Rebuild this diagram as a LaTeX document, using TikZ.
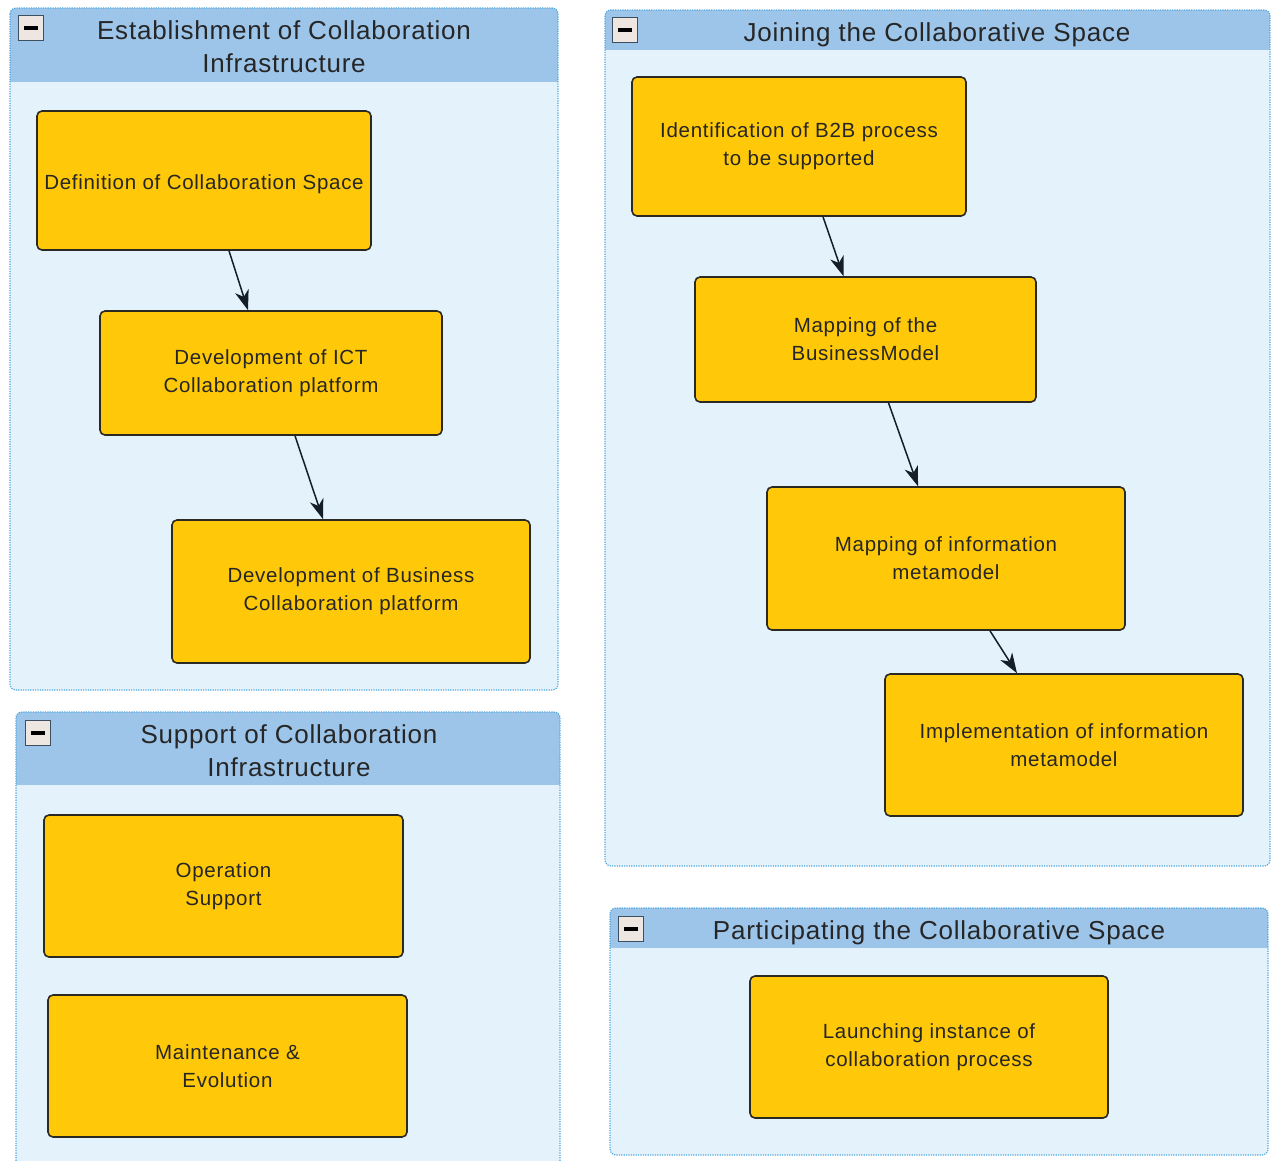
\documentclass[tikz,border=0pt]{standalone}
\usepackage{fontspec}
\setmainfont{Liberation Sans}
\newfontfamily\boxfont[LetterSpace=3.5]{Liberation Sans}
\newfontfamily\titlefont[LetterSpace=3]{Liberation Sans}
\usetikzlibrary{arrows.meta}
\definecolor{boxfill}{HTML}{FFC808}
\definecolor{boxline}{HTML}{2A2A22}
\definecolor{panelbg}{HTML}{E4F2FB}
\definecolor{headbg}{HTML}{9DC5E9}
\definecolor{panelline}{HTML}{4FA6DE}
\definecolor{arrowc}{HTML}{141E2A}
\definecolor{iconbg}{HTML}{EEE6E0}
\definecolor{iconline}{HTML}{3E5060}
\tikzset{
 box/.style={draw=boxline, line width=1.6pt, fill=boxfill, rounded corners=5pt, inner sep=0pt, align=center, execute at begin node={\rule{0pt}{22pt}}, font={\boxfont\fontsize{20.5}{28}\selectfont}, text=black!85},
 flow/.style={-{Stealth[length=20pt,width=14pt,inset=6pt]}, line width=1.5pt, draw=arrowc},
 title/.style={align=center, font={\titlefont\fontsize{26}{33}\selectfont}, text=black!85, inner sep=0pt},
 iconbox/.style={draw=iconline, line width=1.3pt, fill=iconbg, minimum size=25pt, inner sep=0pt},
 panelborder/.style={draw=panelline, line width=1.2pt, dash pattern=on 1.2pt off 1.2pt},
}
\newcommand{\mypanel}[5]{%
 \fill[panelbg, rounded corners=6pt] (#1,#2) rectangle (#3,#4);
 \begin{scope}
 \clip[rounded corners=6pt] (#1,#2) rectangle (#3,#4);
 \fill[headbg] (#1,#2) rectangle (#3,#5);
 \end{scope}
 \draw[panelborder, rounded corners=6pt] (#1,#2) rectangle (#3,#4);
}
\newcommand{\myicon}[3]{%
 \node[iconbox] (#1) at (#2,#3) {};
 \fill[black] (#1.center) ++(-7,-2) rectangle ++(14,4);
}
\begin{document}
\begin{tikzpicture}[x=1pt,y=-1pt]
\useasboundingbox (0,0) rectangle (1274,1160);
\fill[white] (0,0) rectangle (1274,1160);

% panels
\mypanel{10}{8}{558}{690}{82}
\mypanel{605}{10}{1270}{866}{50}
\mypanel{16}{712}{560}{1180}{785}
\mypanel{610}{908}{1268}{1155}{948}

% icons
\myicon{i1}{31}{28}
\myicon{i2}{625}{30}
\myicon{i3}{38}{733}
\myicon{i4}{631}{929}

% titles
\node[title] (t1) at (284,47) {Establishment of Collaboration\\Infrastructure};
\node[title] (t2) at (937,35) {Joining the Collaborative Space};
\node[title] (t3) at (289,751) {Support of Collaboration\\Infrastructure};
\node[title] (t4) at (939,933) {Participating the Collaborative Space};

% boxes
\node[box, minimum width=334pt, minimum height=139pt] (b1) at (204,180.5) {Definition of Collaboration Space};
\node[box, minimum width=342pt, minimum height=124pt] (b2) at (271,373) {Development of ICT\\Collaboration platform};
\node[box, minimum width=358pt, minimum height=143pt] (b3) at (351,591.5) {Development of Business\\Collaboration platform};

\node[box, minimum width=334pt, minimum height=139pt] (c1) at (799,146.5) {Identification of B2B process\\to be supported};
\node[box, minimum width=341pt, minimum height=125pt] (c2) at (865.5,339.5) {Mapping of the\\BusinessModel};
\node[box, minimum width=358pt, minimum height=143pt] (c3) at (946,558.5) {Mapping of information\\metamodel};
\node[box, minimum width=358pt, minimum height=142pt] (c4) at (1064,745) {Implementation of information\\metamodel};

\node[box, minimum width=359pt, minimum height=142pt] (d1) at (223.5,886) {Operation\\Support};
\node[box, minimum width=359pt, minimum height=142pt] (d2) at (227.5,1066) {Maintenance \&\\Evolution};

\node[box, minimum width=358pt, minimum height=142pt] (e1) at (929,1047) {Launching instance of\\collaboration process};

% arrows
\draw[flow] ([xshift=25pt]b1.south) -- ([xshift=-23pt]b2.north);
\draw[flow] ([xshift=24pt]b2.south) -- ([xshift=-28pt]b3.north);
\draw[flow] ([xshift=24pt]c1.south) -- ([xshift=-22pt]c2.north);
\draw[flow] ([xshift=23pt]c2.south) -- ([xshift=-28pt]c3.north);
\draw[flow] ([xshift=44pt]c3.south) -- ([xshift=-47pt]c4.north);
\end{tikzpicture}
\end{document}
